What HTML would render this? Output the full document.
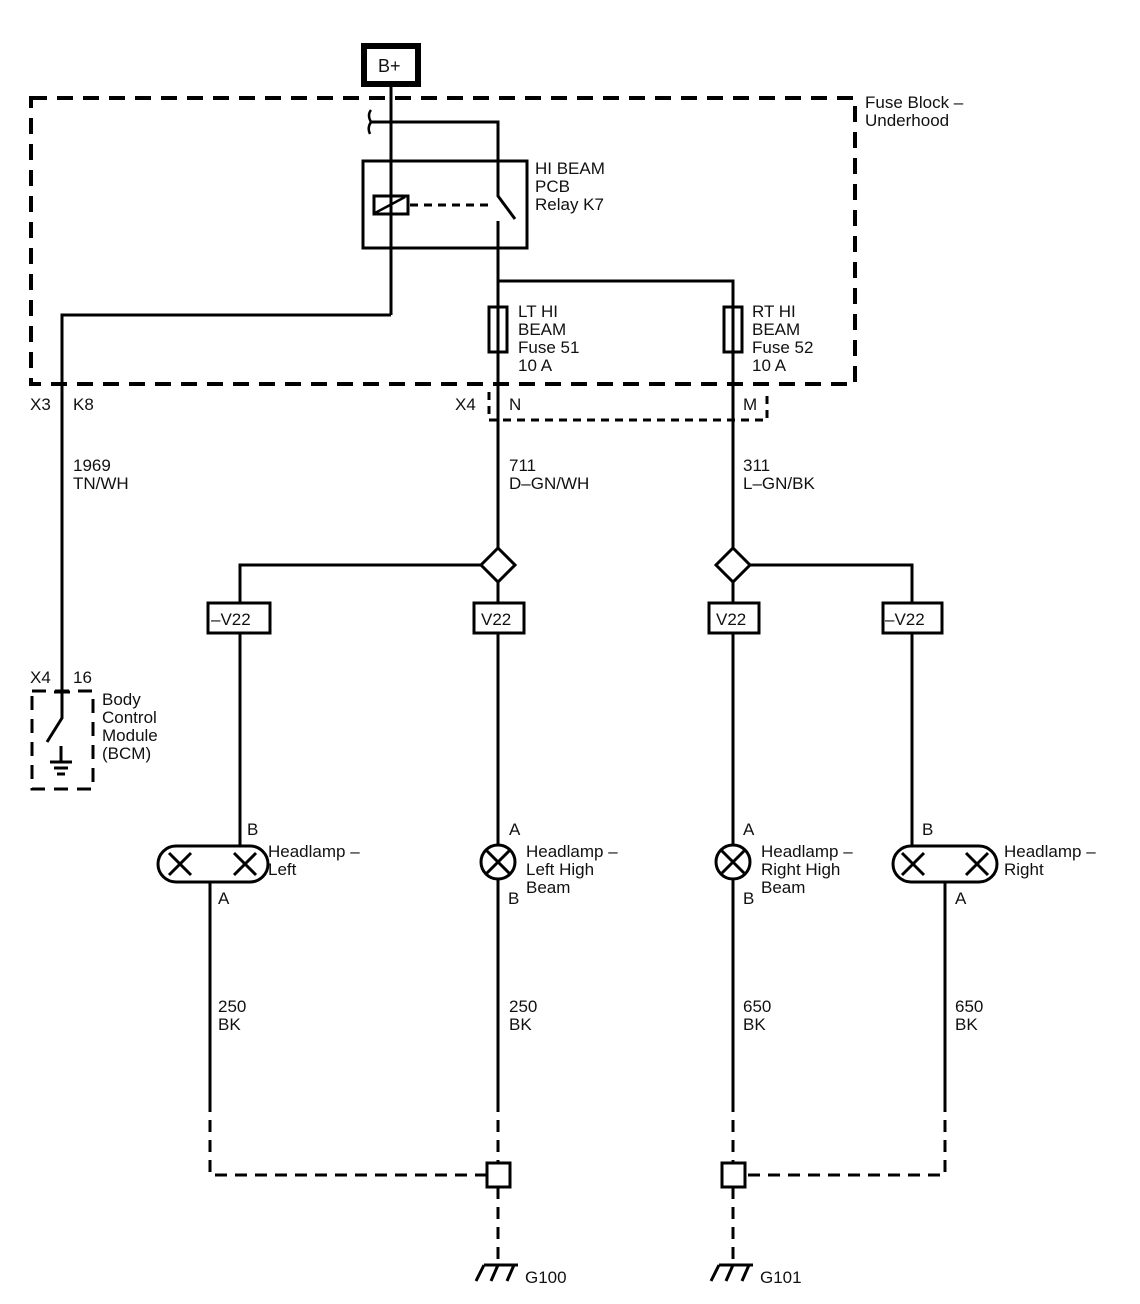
<!DOCTYPE html>
<html><head><meta charset="utf-8"><style>
html,body{margin:0;padding:0;background:#fff;}
svg{display:block;}
text{font-family:"Liberation Sans",Arial,sans-serif;font-size:17px;fill:#111;}
</style></head><body>
<svg width="1140" height="1304" viewBox="0 0 1140 1304" xmlns="http://www.w3.org/2000/svg">
<g stroke="#000" fill="none" stroke-width="3">
<rect x="364" y="46" width="54" height="38" stroke-width="6"/>
<rect x="31" y="98" width="824" height="286" stroke-dasharray="16,10" stroke-width="4"/>
<line x1="391" y1="84" x2="391" y2="315"/>
<polyline points="62,692 62,315 391,315"/>
<path d="M371,110 Q367,115 371,122 Q367,128 370,134" stroke-width="2.5"/>
<polyline points="370,122 498,122 498,196 515,219"/>
<rect x="363" y="161" width="164" height="87"/>
<rect x="374" y="196" width="34" height="18"/>
<line x1="375" y1="213" x2="405" y2="197" stroke-width="2.5"/>
<line x1="410" y1="205" x2="494" y2="205" stroke-dasharray="8,6"/>
<line x1="498" y1="221" x2="498" y2="384"/>
<polyline points="498,281 733,281 733,384"/>
<rect x="489" y="307" width="18" height="45"/>
<rect x="724" y="307" width="18" height="45"/>
<polyline points="489,392 489,420 767,420 767,392" stroke-dasharray="8,6"/>
<line x1="498" y1="384" x2="498" y2="548"/>
<line x1="733" y1="384" x2="733" y2="548"/>
<polygon points="498,548 515,565 498,582 481,565" fill="#fff"/>
<polygon points="733,548 750,565 733,582 716,565" fill="#fff"/>
<polyline points="481,565 240,565 240,603"/>
<polyline points="750,565 912,565 912,603"/>
<line x1="498" y1="582" x2="498" y2="603"/>
<line x1="733" y1="582" x2="733" y2="603"/>
<rect x="208" y="603" width="62" height="30"/>
<rect x="474" y="603" width="50" height="30"/>
<rect x="709" y="603" width="50" height="30"/>
<rect x="883" y="603" width="59" height="30"/>
<line x1="240" y1="633" x2="240" y2="846"/>
<line x1="498" y1="633" x2="498" y2="845"/>
<line x1="733" y1="633" x2="733" y2="845"/>
<line x1="912" y1="633" x2="912" y2="846"/>
<rect x="158" y="846" width="110" height="36" rx="18"/>
<path d="M169,853 L191,875 M191,853 L169,875 M234,853 L256,875 M256,853 L234,875"/>
<rect x="893" y="846" width="104" height="36" rx="18"/>
<path d="M902,853 L924,875 M924,853 L902,875 M966,853 L988,875 M988,853 L966,875"/>
<circle cx="498" cy="862" r="17"/>
<path d="M486,850 L510,874 M510,850 L486,874"/>
<circle cx="733" cy="862" r="17"/>
<path d="M721,850 L745,874 M745,850 L721,874"/>
<line x1="210" y1="882" x2="210" y2="1100"/>
<line x1="498" y1="879" x2="498" y2="1100"/>
<line x1="733" y1="879" x2="733" y2="1100"/>
<line x1="945" y1="882" x2="945" y2="1100"/>
<g stroke-dasharray="12,8">
<polyline points="210,1100 210,1175 487,1175"/>
<line x1="498" y1="1100" x2="498" y2="1163"/>
<line x1="733" y1="1100" x2="733" y2="1163"/>
<polyline points="945,1100 945,1175 745,1175"/>
<line x1="498" y1="1187" x2="498" y2="1262"/>
<line x1="733" y1="1187" x2="733" y2="1262"/>
</g>
<rect x="487" y="1163" width="23" height="24"/>
<rect x="722" y="1163" width="23" height="24"/>
<path d="M484,1265 L518,1265 M484,1265 L476,1281 M498,1265 L491,1281 M514,1265 L507,1281"/>
<path d="M719,1265 L753,1265 M719,1265 L711,1281 M733,1265 L726,1281 M749,1265 L742,1281"/>
<rect x="32" y="691" width="61" height="98" stroke-dasharray="14,9"/>
<line x1="54" y1="692" x2="70" y2="692"/>
<polyline points="62,692 62,718 47,742"/>
<line x1="61" y1="746" x2="61" y2="762"/>
<line x1="50" y1="762" x2="72" y2="762"/>
<line x1="54" y1="768" x2="68" y2="768"/>
<line x1="57" y1="774" x2="65" y2="774"/>
</g>
<text x="378" y="72" style="font-size:18px">B+</text>
<text x="865" y="108">Fuse Block –</text>
<text x="865" y="126">Underhood</text>
<text x="535" y="174">HI BEAM</text>
<text x="535" y="192">PCB</text>
<text x="535" y="210">Relay K7</text>
<text x="518" y="317">LT HI</text>
<text x="518" y="335">BEAM</text>
<text x="518" y="353">Fuse 51</text>
<text x="518" y="371">10 A</text>
<text x="752" y="317">RT HI</text>
<text x="752" y="335">BEAM</text>
<text x="752" y="353">Fuse 52</text>
<text x="752" y="371">10 A</text>
<text x="30" y="410">X3</text>
<text x="73" y="410">K8</text>
<text x="455" y="410">X4</text>
<text x="509" y="410">N</text>
<text x="743" y="410">M</text>
<text x="73" y="471">1969</text>
<text x="73" y="489">TN/WH</text>
<text x="509" y="471">711</text>
<text x="509" y="489">D–GN/WH</text>
<text x="743" y="471">311</text>
<text x="743" y="489">L–GN/BK</text>
<text x="211" y="625">–V22</text>
<text x="481" y="625">V22</text>
<text x="716" y="625">V22</text>
<text x="885" y="625">–V22</text>
<text x="30" y="683">X4</text>
<text x="73" y="683">16</text>
<text x="102" y="705">Body</text>
<text x="102" y="723">Control</text>
<text x="102" y="741">Module</text>
<text x="102" y="759">(BCM)</text>
<text x="247" y="835">B</text>
<text x="268" y="857">Headlamp –</text>
<text x="268" y="875">Left</text>
<text x="218" y="904">A</text>
<text x="509" y="835">A</text>
<text x="526" y="857">Headlamp –</text>
<text x="526" y="875">Left High</text>
<text x="526" y="893">Beam</text>
<text x="508" y="904">B</text>
<text x="743" y="835">A</text>
<text x="761" y="857">Headlamp –</text>
<text x="761" y="875">Right High</text>
<text x="761" y="893">Beam</text>
<text x="743" y="904">B</text>
<text x="922" y="835">B</text>
<text x="1004" y="857">Headlamp –</text>
<text x="1004" y="875">Right</text>
<text x="955" y="904">A</text>
<text x="218" y="1012">250</text>
<text x="218" y="1030">BK</text>
<text x="509" y="1012">250</text>
<text x="509" y="1030">BK</text>
<text x="743" y="1012">650</text>
<text x="743" y="1030">BK</text>
<text x="955" y="1012">650</text>
<text x="955" y="1030">BK</text>
<text x="525" y="1283">G100</text>
<text x="760" y="1283">G101</text>
</svg>
</body></html>
